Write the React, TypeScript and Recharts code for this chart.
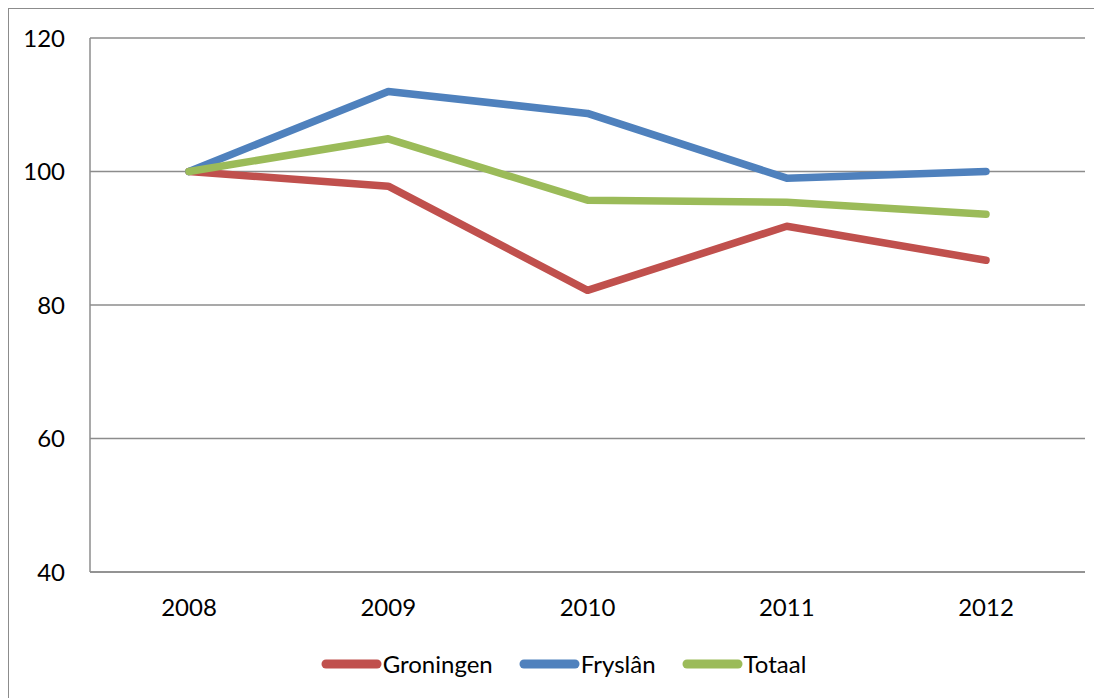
import { LineChart, Line, XAxis, YAxis, CartesianGrid, Legend } from "recharts";

const years = ["2008", "2009", "2010", "2011", "2012"];
const groningen = [100, 97.8, 82.2, 91.8, 86.7];
const fryslan = [100, 112.0, 108.7, 99.0, 100];
const totaal = [100, 104.9, 95.7, 95.4, 93.6];
const yTicks = [40, 60, 80, 100, 120];

const series = [
  { key: "Groningen", color: "#C0504D" },
  { key: "Fryslân", color: "#4F81BD" },
  { key: "Totaal", color: "#9BBB59" },
];

const data = years.map((year, i) => ({
  year,
  Groningen: groningen[i],
  Fryslân: fryslan[i],
  Totaal: totaal[i],
}));

const FONT = "Lato, 'Open Sans', sans-serif";
const AXIS_GRAY = "#8c8c8c";

// keep series order instead of the legend's alphabetical sort
function LegendContent() {
  return (
    <div
      style={{
        display: "flex",
        justifyContent: "center",
        paddingLeft: 16,
        fontFamily: FONT,
        fontSize: 24,
        color: "#000",
      }}
    >
      {series.map((s, i) => (
        <div
          key={s.key}
          style={{
            display: "flex",
            alignItems: "center",
            marginLeft: i === 0 ? 0 : 26,
          }}
        >
          <svg width={61} height={12} style={{ marginRight: 1 }}>
            <line
              x1={5}
              y1={6}
              x2={56}
              y2={6}
              stroke={s.color}
              strokeWidth={9}
              strokeLinecap="round"
            />
          </svg>
          <span>{s.key}</span>
        </div>
      ))}
    </div>
  );
}

export default function App() {
  return (
    <div
      style={{
        width: 1095,
        height: 691,
        margin: "-1px 0 0 -1px",
        borderTop: `2px solid ${AXIS_GRAY}`,
        borderLeft: `2px solid ${AXIS_GRAY}`,
      }}
    >
      <LineChart
        width={1093}
        height={689}
        data={data}
        margin={{ top: 29, right: 17, left: 0, bottom: 57 }}
      >
        <CartesianGrid
          vertical={false}
          stroke={AXIS_GRAY}
          strokeWidth={1.5}
        />
        <XAxis
          dataKey="year"
          padding={{ left: 99, right: 99 }}
          height={40}
          tickLine={false}
          tickSize={0}
          tickMargin={27}
          axisLine={{ stroke: AXIS_GRAY, strokeWidth: 1.5 }}
          tick={{ fill: "#000", fontFamily: FONT, fontSize: 24 }}
        />
        <YAxis
          width={81}
          domain={[40, 120]}
          ticks={yTicks}
          tickLine={false}
          tickSize={0}
          tickMargin={25}
          axisLine={{ stroke: AXIS_GRAY, strokeWidth: 1.5 }}
          tick={{ fill: "#000", fontFamily: FONT, fontSize: 24 }}
        />
        <Legend
          verticalAlign="bottom"
          content={<LegendContent />}
          wrapperStyle={{ top: 640, left: 0, width: 1093 }}
        />
        {series.map((s) => (
          <Line
            key={s.key}
            type="linear"
            dataKey={s.key}
            stroke={s.color}
            strokeWidth={7.5}
            strokeLinecap="round"
            strokeLinejoin="round"
            dot={false}
            isAnimationActive={false}
          />
        ))}
      </LineChart>
    </div>
  );
}
